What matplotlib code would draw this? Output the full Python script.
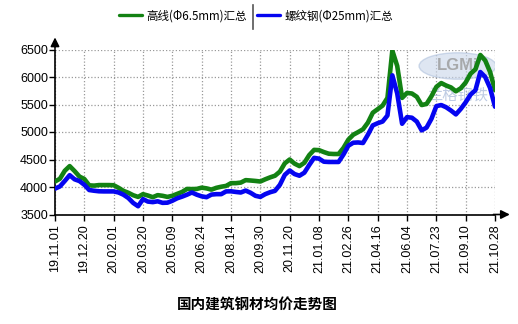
import numpy as np
import matplotlib
matplotlib.use("Agg")
import matplotlib.pyplot as plt
from matplotlib.lines import Line2D
from matplotlib.patches import Ellipse

# --- dane ---
tick_labels = ["19.11.01", "19.12.20", "20.02.01", "20.03.20", "20.05.09", "20.06.24",
               "20.08.14", "20.09.30", "20.11.20", "21.01.08", "21.02.26", "21.04.16",
               "21.06.04", "21.07.23", "21.09.10", "21.10.28"]

# 高线(Φ6.5mm)汇总
wire_rod = [4100, 4150, 4295, 4380, 4290, 4190, 4145, 4030, 4025, 4035,
            4035, 4035, 4032, 3985, 3930, 3895, 3850, 3820, 3870, 3845,
            3815, 3852, 3840, 3820, 3840, 3875, 3910, 3965, 3962, 3965,
            3988, 3975, 3952, 3985, 4005, 4020, 4070, 4070, 4080, 4125,
            4118, 4110, 4100, 4140, 4175, 4205, 4280, 4430, 4500, 4425,
            4380, 4440, 4580, 4675, 4670, 4635, 4605, 4600, 4600, 4710,
            4860, 4950, 4998, 5050, 5170, 5350, 5415, 5480, 5620, 6480,
            6200, 5620, 5710, 5700, 5640, 5490, 5510, 5650, 5820, 5890,
            5845, 5810, 5740, 5795, 5900, 6060, 6140, 6400, 6300, 6090,
            5760]

# 螺纹钢(Φ25mm)汇总
rebar = [3970, 4010, 4110, 4215, 4140, 4108, 4040, 3945, 3932, 3922,
         3920, 3920, 3920, 3900, 3860, 3800, 3710, 3650, 3780, 3735,
         3725, 3740, 3712, 3715, 3750, 3795, 3825, 3860, 3900, 3860,
         3830, 3815, 3862, 3870, 3870, 3920, 3922, 3910, 3900, 3935,
         3895, 3840, 3820, 3870, 3905, 3930, 4040, 4220, 4300, 4235,
         4205, 4260, 4400, 4530, 4515, 4460, 4455, 4455, 4455, 4590,
         4750, 4805, 4810, 4800, 4950, 5120, 5160, 5190, 5300, 6030,
         5700, 5150, 5270, 5260, 5190, 5030, 5080, 5240, 5470, 5490,
         5450, 5390, 5320, 5420, 5540, 5680, 5760, 6090, 6000, 5800,
         5460]

y_ticks = [3500, 4000, 4500, 5000, 5500, 6000, 6500]

CJK = ["Noto Sans CJK SC", "DejaVu Sans"]
GREEN = "#138213"
BLUE = "#0505f0"

plt.rcParams["font.family"] = ["Liberation Sans", "DejaVu Sans"]

fig = plt.figure(figsize=(5.18, 3.24), dpi=100)
ax = fig.add_axes([55 / 518, 1 - 214.5 / 324, 440 / 518, 165 / 324])

x = np.arange(len(wire_rod))
step = (len(x) - 1) // (len(tick_labels) - 1)

l1, = ax.plot(x, wire_rod, color=GREEN, lw=3.3, solid_joinstyle="round",
              solid_capstyle="round", label="高线(Φ6.5mm)汇总", zorder=3)
l2, = ax.plot(x, rebar, color=BLUE, lw=3.3, solid_joinstyle="round",
              solid_capstyle="round", label="螺纹钢(Φ25mm)汇总", zorder=4)

ax.set_xlim(0, len(x) - 1)
ax.set_ylim(3500, 6500)
ax.set_xticks(x[::step])
ax.set_xticklabels(tick_labels, rotation=90, fontsize=9)
ax.set_yticks(y_ticks)
ax.set_yticklabels([str(v) for v in y_ticks], fontsize=9)
ax.tick_params(axis="both", length=4, width=1, pad=1, colors="black")
ax.tick_params(axis="x", pad=3)

ax.grid(True, color="#9a9a9a", linestyle=(0, (1, 1.6)), linewidth=0.9)
ax.set_axisbelow(True)
for s in ["top", "right"]:
    ax.spines[s].set_visible(False)
for s in ["left", "bottom"]:
    ax.spines[s].set_linewidth(1.2)

# strzałki osi
ax.annotate("", xy=(0, 1.09), xytext=(0, 0.99), xycoords="axes fraction",
            arrowprops=dict(arrowstyle="-|>", color="black", lw=1.2, mutation_scale=13),
            annotation_clip=False)
ax.annotate("", xy=(1.04, 0), xytext=(0.99, 0), xycoords="axes fraction",
            arrowprops=dict(arrowstyle="-|>", color="black", lw=1.2, mutation_scale=13),
            annotation_clip=False)

# znak wodny LGMI
ax.add_patch(Ellipse((0.915, 0.90), 0.175, 0.16, transform=ax.transAxes,
                     facecolor="#c9d6ea", edgecolor="#b0c2dd", alpha=0.6, zorder=2))
ax.text(0.915, 0.90, "LGMi", transform=ax.transAxes, ha="center", va="center",
        fontsize=12, fontweight="bold", color="#9a9a9a", alpha=0.8, zorder=2)
ax.text(0.915, 0.725, "兰格钢铁", transform=ax.transAxes, ha="center", va="center",
        fontsize=11, color="#aebfdc", alpha=0.8, family=CJK, zorder=2)

# legenda
leg = fig.legend(handles=[l1, l2], loc="center", bbox_to_anchor=(256 / 518, 1 - 16 / 324),
                 ncol=2, frameon=False, prop={"family": CJK, "size": 8.3},
                 handlelength=2.0, handletextpad=0.35, columnspacing=0.95)
for h in leg.legend_handles:
    h.set_linewidth(2.4)
fig.add_artist(Line2D([253 / 518, 253 / 518], [1 - 5 / 324, 1 - 29 / 324],
                      transform=fig.transFigure, color="#555555", lw=1.2))

fig.text(257.5 / 518, 1 - 305 / 324, "国内建筑钢材均价走势图", ha="center", va="center",
         fontsize=10.5, fontweight="bold", family=CJK)

fig.savefig("out.png", dpi=100)
